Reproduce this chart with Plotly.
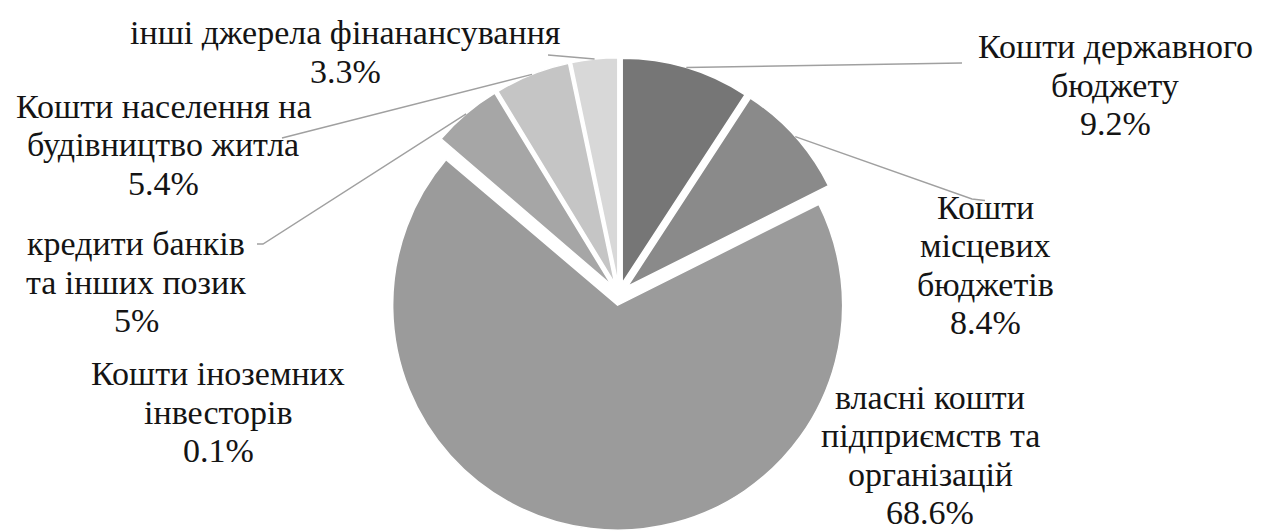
import math
import plotly.graph_objects as go

# Structure of capital investment financing sources, %
labels = [
    "Кошти державного бюджету",
    "Кошти місцевих бюджетів",
    "власні кошти підприємств та організацій",
    "Кошти іноземних інвесторів",
    "кредити банків та інших позик",
    "Кошти населення на будівництво житла",
    "інші джерела фінанансування",
]
values = [9.2, 8.4, 68.6, 0.1, 5.0, 5.4, 3.3]
value_text = ["9.2%", "8.4%", "68.6%", "0.1%", "5%", "5.4%", "3.3%"]
label_lines = [
    ["Кошти державного", "бюджету"],
    ["Кошти", "місцевих", "бюджетів"],
    ["власні кошти", "підприємств та", "організацій"],
    ["Кошти іноземних", "інвесторів"],
    ["кредити банків", "та інших позик"],
    ["Кошти населення на", "будівництво житла"],
    ["інші джерела фінанансування"],
]
colors = ["#767676", "#8a8a8a", "#9b9b9b", "#bcbcbc", "#a6a6a6", "#c5c5c5", "#d8d8d8"]

W, H = 1264, 532
PULL = 0.05
CX, CY, R = 619.0, 294.0, 225.0          # pie centre / radius in pixels
RY = R * (1 + PULL)                        # half-height of the pie domain
LINE_GAP = 38.3
FONT = dict(family="Liberation Serif", size=34, color="#141414")

dom_y = [1 - (CY + RY) / H, 1 - (CY - RY) / H]
dom_x = [CX / W - 0.19, CX / W + 0.19]

fig = go.Figure(go.Pie(
    labels=labels,
    values=values,
    sort=False,
    direction="clockwise",
    rotation=0,
    pull=PULL,
    marker=dict(colors=colors, line=dict(color="white", width=1.5)),
    textinfo="none",
    hoverinfo="label+percent",
    domain=dict(x=dom_x, y=dom_y),
    showlegend=False,
))

# label block centres (pixels) and where each leader line ends
label_pos = [(1115, 85), (985, 265), (930, 455), (218, 412), (136, 282), (163, 145), (345, 52)]
leader_end = {
    0: [(962, 63)],
    1: [(972, 199), (985, 200.5)],
    4: [(263, 244), (257, 244)],
    5: [(282, 138)],
    6: [(548, 55)],
}


def px(x, y):
    return x / W, 1 - y / H


total = sum(values)
cum = 0.0
shapes = []
annotations = []
for i, v in enumerate(values):
    mid = (cum + v / 2) / total * 2 * math.pi
    cum += v
    dx, dy = math.sin(mid), -math.cos(mid)
    # point on the outer arc of the pulled slice
    sx, sy = CX + RY * dx, CY + RY * dy
    if i in leader_end:
        pts = [(sx, sy)] + leader_end[i]
        path = "M " + " L ".join(f"{px(x, y)[0]:.5f},{px(x, y)[1]:.5f}" for x, y in pts)
        shapes.append(dict(type="path", xref="paper", yref="paper", path=path,
                           line=dict(color="#a0a0a0", width=1.4)))
    lx, ly = label_pos[i]
    lines = label_lines[i] + [value_text[i]]
    n = len(lines)
    for k, line in enumerate(lines):
        ax, ay = px(lx, ly + (k - (n - 1) / 2) * LINE_GAP)
        annotations.append(dict(
            x=ax, y=ay, xref="paper", yref="paper", xanchor="center", yanchor="middle",
            text=line, showarrow=False, font=FONT,
        ))

fig.update_layout(
    width=W, height=H,
    margin=dict(l=0, r=0, t=0, b=0),
    paper_bgcolor="white", plot_bgcolor="white",
    shapes=shapes, annotations=annotations,
)

fig.write_html("out.html")
